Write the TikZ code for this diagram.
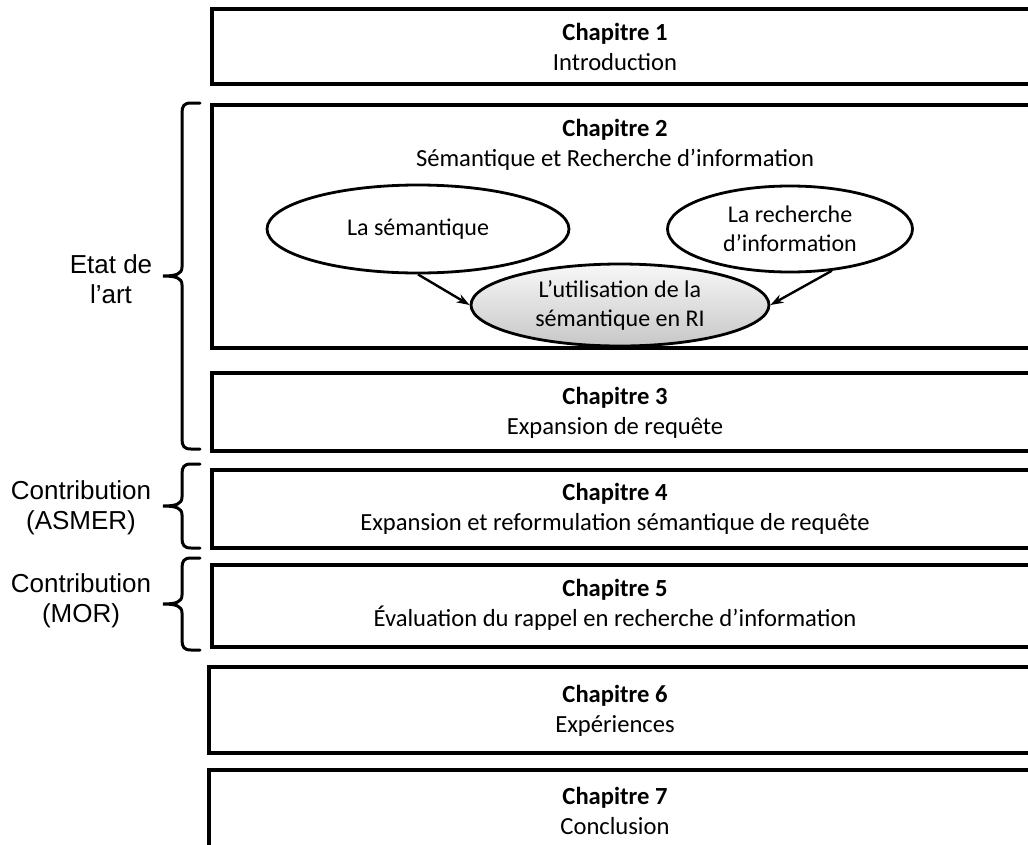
\documentclass[tikz,border=0pt]{standalone}
\usepackage{fontspec}
\setmainfont{Carlito}
\newfontfamily\arialfont{Liberation Sans}
\usetikzlibrary{arrows.meta,shapes.geometric}

\begin{document}
\begin{tikzpicture}[x=1pt,y=-1pt,
    chapbox/.style={draw,line width=3.2pt,rectangle,inner sep=0pt},
    chaptext/.style={align=center,font=\fontsize{24.6}{30}\selectfont},
    bulle/.style={draw,ellipse,line width=2.8pt,inner sep=0pt,align=center,font=\fontsize{24}{29}\selectfont},
    accol/.style={line width=3pt,line cap=round},
    partie/.style={align=center,font=\arialfont\fontsize{26}{30}\selectfont},
    fleche/.style={-{Stealth[length=13pt,width=9pt]},line width=2.4pt}]

    \useasboundingbox (0,0) rectangle (1028,844);

    % chapitres
    \foreach \n/\h/\b/\g/\t/\titre in {1/9/84/212/47/Introduction,
        3/373/451/212/413/Expansion de requête,
        4/470/548/212/509/Expansion et reformulation sémantique de requête,
        5/565/647/212/605/Évaluation du rappel en recherche d’information,
        6/667/753/209/711/Expériences,
        7/770/880/209/811/Conclusion}
    {
      \node[chapbox,minimum width={(1040-\g)*1pt},minimum height={(\b-\h)*1pt}] (c\n) at ({(1040+\g)/2},{(\h+\b)/2}) {};
      \node[chaptext] (t\n) at (615,\t) {\textbf{Chapitre \n}\\\titre};
    }

    \node[chapbox,minimum width=828pt,minimum height=243pt] (c2) at (626,226.5) {};
    \node[chaptext] (t2) at (615,145) {\textbf{Chapitre 2}\\Sémantique et Recherche d’information};

    \node[bulle,minimum width=302pt,minimum height=88pt] (sem) at (418,229) {La sémantique};
    \node[bulle,minimum width=245pt,minimum height=86pt] (rech) at (790,229) {La recherche\\d’information};
    \node[bulle,top color=black!3,bottom color=black!22,minimum width=298pt,minimum height=82pt] (util) at (620,305) {L’utilisation de la\\sémantique en RI};
    \draw[fleche] (sem.south) -- (util.west);
    \draw[fleche] (rech.-45) -- (util.east);

    % parties
    \foreach \h/\b [evaluate=\h as \m using (\h+\b)/2] in {103/449,464/548,558/650}
    {
      \draw[accol] (200,\h) -- (191,\h) .. controls (184,\h) and (182,\h+3) .. (182,\h+10)
        -- (182,\m-9) .. controls (182,\m-2) and (176,\m) .. (163,\m)
        .. controls (176,\m) and (182,\m+2) .. (182,\m+9)
        -- (182,\b-10) .. controls (182,\b-3) and (184,\b) .. (191,\b) -- (200,\b);
    }
    \node[partie] (etat) at (111,279) {Etat de\\l’art};
    \node[partie] (asmer) at (81,508) {Contribution\\(ASMER)};
    \node[partie] (mor) at (81,601) {Contribution\\(MOR)};

\end{tikzpicture}
\end{document}
